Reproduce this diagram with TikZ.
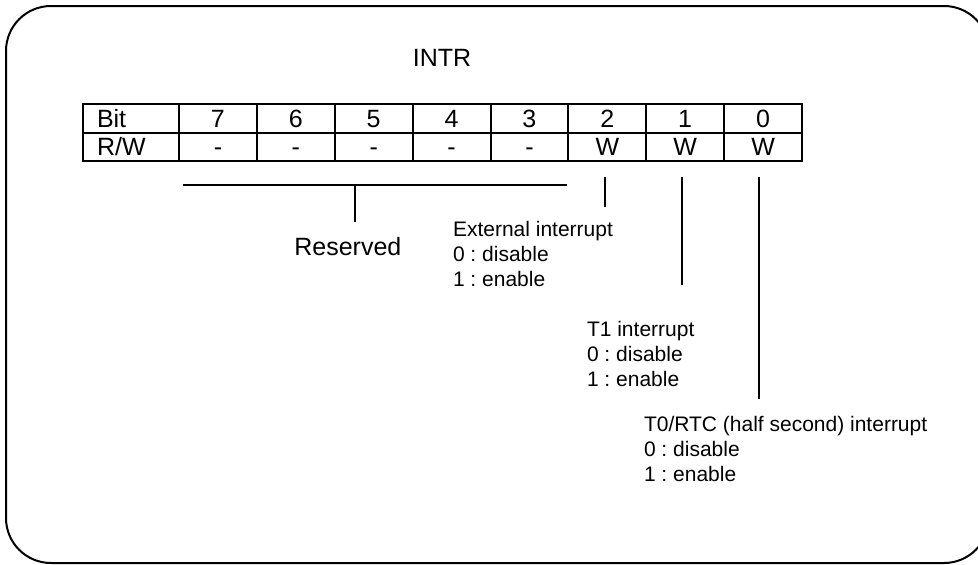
\documentclass[tikz,border=0pt]{standalone}
\usepackage{fontspec}
\setmainfont{Liberation Sans}
\frenchspacing
\begin{document}
\begin{tikzpicture}[x=1pt,y=-1pt,line width=2pt,
  big/.style={font=\fontsize{25}{30}\selectfont},
  small/.style={font=\fontsize{21}{25}\selectfont,align=left,inner sep=0pt,anchor=north west},
  cell/.style={draw,big,minimum width=77.875pt,minimum height=28.5pt,inner sep=0pt,text height=17.9pt,text depth=0pt,anchor=north west},
  head/.style={cell,minimum width=96pt,text width=68pt,inner xsep=14pt,align=left}]
\useasboundingbox (0,0) rectangle (978,565);
\draw[rounded corners=45pt] (6,6) rectangle (989,563);
\node[big,anchor=base] (intr) at (442,66) {INTR};
%\draw (0,0) to[grid with coordinates] (978,565);
\node[head] (hbit) at (82,103) {Bit};
\node[head] (hrw) at (82,131.5) {R/W};
\foreach \b/\r [count=\i from 0] in {7/-,6/-,5/-,4/-,3/-,2/W,1/W,0/W} {
  \node[cell] (b\b) at (178+\i*77.875,103) {\b};
  \node[cell] (w\b) at (178+\i*77.875,131.5) {\r};
}
\coordinate (resl) at (183,185);
\coordinate (resr) at (567,185);
\coordinate (resm) at (355,185);
\coordinate (resb) at (355,222);
\draw (resl) -- (resr);
\draw (resm) -- (resb);
\node[big,anchor=base west] (res) at (290,255) {Reserved};
\foreach \b/\x/\e in {2/605/207,1/682/285,0/759/399} {
  \coordinate (t\b) at (\x,177);
  \coordinate (e\b) at (\x,\e);
  \draw (t\b) -- (e\b);
}
\node[small] (ext) at (452,220) {External interrupt\\0 : disable\\1 : enable};
\node[small] (tone) at (586,320) {T1 interrupt\\0 : disable\\1 : enable};
\node[small] (tzero) at (643,415) {T0/RTC (half second) interrupt\\0 : disable\\1 : enable};
\end{tikzpicture}
\end{document}
